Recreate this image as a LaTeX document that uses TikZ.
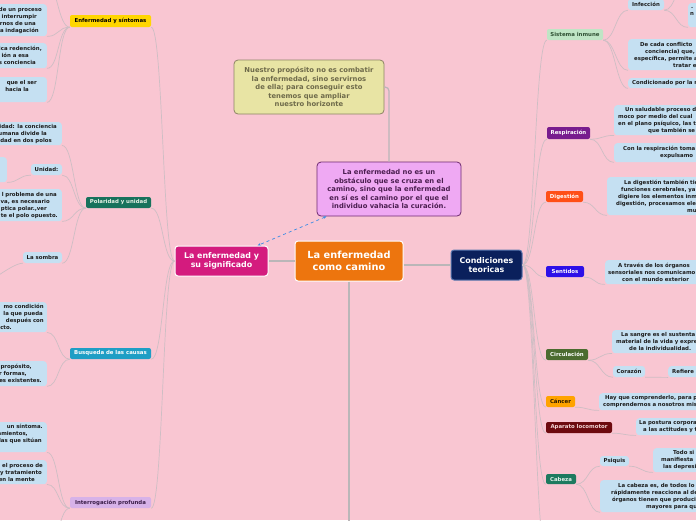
\documentclass[tikz,border=0pt]{standalone}
\usepackage{fontspec}
\setmainfont{DejaVu Sans}
\usepackage{tikz}
\usetikzlibrary{arrows.meta, positioning, calc}
\definecolor{cBg}{RGB}{249,198,210}
\definecolor{cLeaf}{RGB}{197,224,242}
\definecolor{cLeafText}{RGB}{28,28,28}
\definecolor{cLine}{RGB}{206,190,196}
\definecolor{cTrunk}{RGB}{186,182,184}
\definecolor{cSee}{RGB}{60,140,228}
\definecolor{cOrange}{RGB}{237,117,14}
\definecolor{cMagenta}{RGB}{212,27,126}
\definecolor{cNavy}{RGB}{10,32,92}
\definecolor{cNavyLine}{RGB}{90,120,175}
\definecolor{cSand}{RGB}{232,228,164}
\definecolor{cSandLine}{RGB}{140,132,100}
\definecolor{cSandText}{RGB}{110,106,74}
\definecolor{cLilac}{RGB}{239,169,243}
\definecolor{cLilacLine}{RGB}{110,42,112}
\definecolor{cLilacText}{RGB}{75,30,80}
\newcommand{\leaffont}{\fontsize{5.4}{7}\selectfont\bfseries}
\newcommand{\notefont}{\fontsize{6.8}{8.5}\selectfont\bfseries}
\newcommand{\midfont}{\fontsize{7.9}{9.5}\selectfont\bfseries}
\newcommand{\bigfont}{\fontsize{9.8}{12}\selectfont\bfseries}
\newcommand{\gap}[1]{\leavevmode\hbox to #1{}}
\tikzset{
	mainbox/.style={rectangle, rounded corners=3pt, draw=white, line width=1pt, text=white, align=center, inner sep=0pt},
	note/.style   ={rectangle, rounded corners=4pt, line width=0.8pt, align=center, inner sep=0pt, font=\notefont},
	topic/.style  ={rectangle, rounded corners=2pt, inner sep=0pt, minimum height=11pt, font=\leaffont},
	leaf/.style   ={rectangle, rounded corners=3pt, fill=cLeaf, text=cLeafText, inner xsep=0pt, inner ysep=0pt, font=\leaffont},
	leafL/.style  ={leaf, anchor=north east, align=right},
	leafR/.style  ={leaf, anchor=north west, align=left},
	trunk/.style  ={draw=cTrunk, line width=1.4pt},
	branch/.style ={draw=cLine, line width=0.7pt},
	lcurve/.style ={to path={.. controls ($(\tikztostart)+(-#1,0)$) and ($(\tikztotarget)+(#1,0)$) .. (\tikztotarget)}},
	rcurve/.style ={to path={.. controls ($(\tikztostart)+(#1,0)$) and ($(\tikztotarget)+(-#1,0)$) .. (\tikztotarget)}},
	lcurve/.default=12, rcurve/.default=12,
	seealso/.style={{Stealth[length=3.5pt]}-{Stealth[length=3.5pt]}, dashed, draw=cSee, line width=0.7pt},
}

\begin{document}
\begin{tikzpicture}[x=1pt, y=-1pt]
	\useasboundingbox (0,0) rectangle (696,520);
	\clip (0,0) rectangle (696,520);
	\fill[cBg] (0,0) rectangle (696,520);

	% centre and the two sides
	\node[mainbox, fill=cOrange, minimum width=108pt, minimum height=40pt, font=\bigfont] (camino) at (349,261) {La enfermedad\\como camino};
	\node[mainbox, fill=cMagenta, minimum width=93pt, minimum height=30pt, font=\midfont] (significado) at (221.5,261) {La enfermedad y\\su significado};
	\node[mainbox, fill=cNavy, draw=cNavyLine, minimum width=71pt, minimum height=30pt, font=\midfont] (teoricas) at (486.5,265) {Condiciones\\teoricas};
	\node[note, fill=cSand, draw=cSandLine, text=cSandText, minimum width=150pt, minimum height=54pt] (proposito) at (309,87) {Nuestro propósito no es combatir\\la enfermedad, sino servirnos\\de ella; para conseguir esto\\tenemos que ampliar\\nuestro horizonte};
	\node[note, fill=cLilac, draw=cLilacLine, text=cLilacText, minimum width=144pt, minimum height=54pt] (obstaculo) at (389,189) {La enfermedad no es un\\obstáculo que se cruza en el\\camino, sino que la enfermedad\\en sí es el camino por el que el\\individuo vahacia la curación.};
	\coordinate (abajo) at (349,560);

	% left topics
	\node[topic, fill={rgb,255:red,255;green,214;blue,0}, text=black, minimum width=81pt, minimum height=12pt] (sintomas) at (110.5,21) {Enfermedad y síntomas};
	\node[topic, fill={rgb,255:red,23;green,114;blue,92}, text={rgb,255:red,230;green,242;blue,230}, minimum width=65pt] (polaridad) at (118.5,202.5) {Polaridad y unidad};
	\node[topic, fill={rgb,255:red,30;green,158;blue,197}, text=white, minimum width=81pt] (busqueda) at (110.5,353.5) {Busqueda de las causas};
	\node[topic, fill={rgb,255:red,215;green,178;blue,232}, text={rgb,255:red,58;green,29;blue,72}, minimum width=81pt] (interrog) at (110.5,502.5) {Interrogación profunda};

	% left leaves
	\node[leafL, text width=87pt, minimum height=32pt] (s1) at (47,4) {de un proceso\gap{5pt}\\interrumpir\gap{10pt}\\rnos de una\gap{11pt}\\a indagación\gap{8pt}};
	\node[leafL, text width=87pt, minimum height=25pt] (s2) at (47,43) {ica redención,\gap{5pt}\\ión a esa\gap{18pt}\\s conciencia\gap{11pt}};
	\node[leafL, text width=87pt, minimum height=25pt] (s3) at (47,77) {que el ser\gap{10pt}\\hacia la\gap{18pt}\\\mbox{}};
	\coordinate (s0) at (45,-20);
	\node[leafL, text width=102pt, minimum height=23pt] (p1) at (62,122) {idad: la conciencia\gap{5pt}\\umana divide la\gap{15pt}\\dad en dos polos\gap{10pt}};
	\node[leaf, align=center, minimum width=31pt, minimum height=11pt] (unidad) at (46.5,169.5) {Unidad:};
	\node[leafL, text width=47pt, minimum height=25pt] (u1) at (7,157) {\mbox{}};
	\node[leafL, text width=102pt, minimum height=32pt] (p2) at (62,189) {l problema de una\gap{5pt}\\va, es necesario\gap{12pt}\\ptica polar.,ver\gap{15pt}\\te el polo opuesto.\gap{4pt}};
	\node[leaf, align=center, minimum width=39pt, minimum height=11pt] (sombra) at (42.5,257.5) {La sombra};
	\coordinate (sombra1) at (-30,290);
	\node[leafL, text width=87pt, minimum height=30pt] (b1) at (47,302) {mo condición\gap{3pt}\\la que pueda\gap{4pt}\\después con\gap{3pt}\\cto.\gap{35pt}};
	\node[leafL, text width=87pt, minimum height=25pt] (b2) at (47,361) {propósito,\gap{15pt}\\r formas,\gap{20pt}\\es existentes.\gap{5pt}};
	\node[leafL, text width=87pt, minimum height=30pt] (i1) at (47,422) {un síntoma.\gap{4pt}\\tamientos,\gap{19pt}\\las que sitúan\gap{5pt}\\\mbox{}};
	\node[leafL, text width=87pt, minimum height=24pt] (i2) at (47,460) {el proceso de\gap{4pt}\\y tratamiento\gap{5pt}\\en la mente\gap{12pt}};
	\coordinate (i3) at (45,560);

	% right topics
	\node[topic, fill={rgb,255:red,191;green,229;blue,197}, text={rgb,255:red,47;green,79;blue,51}, minimum width=56pt] (inmune) at (575,34.5) {Sistema inmune};
	\node[topic, fill={rgb,255:red,120;green,28;blue,142}, text=white, minimum width=43pt, minimum height=12pt] (respiracion) at (568.5,133) {Respiración};
	\node[topic, fill={rgb,255:red,255;green,79;blue,23}, text=white, minimum width=37pt] (digestion) at (564.5,196.5) {Digestión};
	\node[topic, fill={rgb,255:red,45;green,16;blue,232}, text=white, minimum width=38pt] (sentidos) at (565,271.5) {Sentidos};
	\node[topic, fill={rgb,255:red,75;green,107;blue,47}, text=white, minimum width=42pt] (circulacion) at (567,354.5) {Circulación};
	\node[topic, fill={rgb,255:red,255;green,163;blue,0}, text={rgb,255:red,43;green,26;blue,0}, minimum width=29pt] (cancer) at (560.5,401.5) {Cáncer};
	\node[topic, fill={rgb,255:red,109;green,10;blue,15}, text={rgb,255:red,243;green,214;blue,214}, minimum width=66pt] (locomotor) at (579,427.5) {Aparato locomotor};
	\node[topic, fill={rgb,255:red,29;green,122;blue,95}, text={rgb,255:red,227;green,242;blue,234}, minimum width=30pt, minimum height=10pt] (cabeza) at (561,479) {Cabeza};
	\coordinate (masabajo) at (547,560);

	% right leaves
	\node[leaf, align=center, minimum width=36pt, minimum height=11pt] (infeccion) at (646,4.5) {Infección};
	\node[leafR, text width=72pt, minimum height=24pt] (inf1) at (688,3) {\gap{3pt}.\\\gap{2pt}n\\\mbox{}};
	\coordinate (inf0) at (688,-20);
	\node[leafR, text width=132pt, minimum height=31pt] (conflicto) at (628,39) {\gap{12pt}De cada conflicto\\\gap{17pt}conciencia) que,\\\gap{6pt}específica, permite a\\\gap{45pt}tratar e};
	\node[leafR, text width=132pt, minimum height=10pt] (condicionado) at (628,78) {\gap{4pt}Condicionado por la r};
	\node[leafR, text width=146pt, minimum height=30pt] (resp1) at (614,105) {\gap{11pt}Un saludable proceso d\\\gap{4pt}moco por medio del cual\\\gap{4pt}en el plano psíquico, las t\\\gap{34pt}que también se};
	\node[leafR, text width=146pt, minimum height=19pt] (resp2) at (614,143) {\gap{9pt}Con la respiración toma\\\gap{46pt}expulsamo};
	\node[leafR, text width=153pt, minimum height=38pt] (dig1) at (607,177) {\gap{17pt}La digestión también tie\\\gap{14pt}funciones cerebrales, ya\\\gap{11pt}digiere los elementos inm\\\gap{9pt}digestión, procesamos ele\\\gap{80pt}mu};
	\node[leafR, text width=155pt, minimum height=24pt] (sent1) at (605,260) {\gap{13pt}A través de los órganos\\\gap{3pt}sensoriales nos comunicamo\\\gap{17pt}con el mundo exterior};
	\node[leafR, text width=148pt, minimum height=23pt] (circ1) at (612,330) {\gap{9pt}La sangre es el sustenta\\\gap{4pt}material de la vida y expre\\\gap{17pt}de la individualidad.};
	\node[leaf, align=center, minimum width=32pt, minimum height=11pt] (corazon) at (629,371.5) {Corazón};
	\node[leafR, text width=92pt, minimum height=11pt] (refiere) at (668,366) {\gap{4pt}Refiere};
	\node[leafR, text width=161pt, minimum height=17pt] (canc1) at (599,393) {\gap{6pt}Hay que comprenderlo, para p\\\gap{4pt}comprendernos a nosotros mis};
	\node[leafR, text width=124pt, minimum height=17pt] (loco1) at (636,418) {\gap{3pt}La postura corpora\\\gap{7pt}a las actitudes y t};
	\node[leaf, align=center, minimum width=29pt, minimum height=10pt] (psiquis) at (614.5,461) {Psiquis};
	\node[leafR, text width=107pt, minimum height=24pt] (psi1) at (653,448) {\gap{20pt}Todo si\\\gap{8pt}manifiesta\\\gap{10pt}las depresi};
	\node[leafR, text width=160pt, minimum height=32pt] (cab1) at (600,480) {\gap{18pt}La cabeza es, de todos lo\\\gap{11pt}rápidamente reacciona al de\\\gap{12pt}órganos tienen que producir\\\gap{46pt}mayores para qu};

	% main connectors
	\draw[trunk] (camino.west) -- (significado.east);
	\draw[trunk] (camino.east |- teoricas.west) -- (teoricas.west);
	\draw[trunk] (camino.south) -- (abajo);
	\draw[trunk, line width=1.2pt, rounded corners=4pt] (proposito.east) -| (obstaculo.north);
	\draw[seealso] ([xshift=10pt]obstaculo.south west) -- ([xshift=-11pt]significado.north east);

	% left side
	\foreach \t in {sintomas, polaridad, busqueda, interrog}
		\draw[branch] (significado.west) to[lcurve] (\t.south east);
	\foreach \t in {s1, s2, s3}
		\draw[branch] (sintomas.south west) to[lcurve] (\t.south east);
	\draw[branch] (sintomas.south west) to[lcurve] (s0);
	\foreach \t in {p1, unidad, p2, sombra}
		\draw[branch] (polaridad.south west) to[lcurve] (\t.south east);
	\draw[branch] (unidad.south west) to[lcurve] (u1.south east);
	\draw[branch] (sombra.south west) to[lcurve] (sombra1);
	\foreach \t in {b1, b2}
		\draw[branch] (busqueda.south west) to[lcurve] (\t.south east);
	\foreach \t in {i1, i2}
		\draw[branch] (interrog.south west) to[lcurve] (\t.south east);
	\draw[branch] (interrog.south west) to[lcurve] (i3);

	% right side
	\foreach \t in {inmune, respiracion, digestion, sentidos, circulacion, cancer, locomotor, cabeza}
		\draw[branch] (teoricas.east) to[rcurve] (\t.south west);
	\draw[branch] (teoricas.east) to[rcurve] (masabajo);
	\foreach \t in {infeccion, conflicto, condicionado}
		\draw[branch] (inmune.south east) to[rcurve] (\t.south west);
	\draw[branch] (infeccion.south east) to[rcurve] (inf1.south west);
	\draw[branch] (infeccion.south east) to[rcurve] (inf0);
	\foreach \t in {resp1, resp2}
		\draw[branch] (respiracion.south east) to[rcurve] (\t.south west);
	\draw[branch] (digestion.south east) to[rcurve] (dig1.south west);
	\draw[branch] (sentidos.south east) to[rcurve] (sent1.south west);
	\foreach \t in {circ1, corazon}
		\draw[branch] (circulacion.south east) to[rcurve] (\t.south west);
	\draw[branch] (corazon.south east) to[rcurve] (refiere.south west);
	\draw[branch] (cancer.south east) to[rcurve] (canc1.south west);
	\draw[branch] (locomotor.south east) to[rcurve] (loco1.south west);
	\foreach \t in {psiquis, cab1}
		\draw[branch] (cabeza.south east) to[rcurve] (\t.south west);
	\draw[branch] (psiquis.south east) to[rcurve] (psi1.south west);
\end{tikzpicture}
\end{document}
